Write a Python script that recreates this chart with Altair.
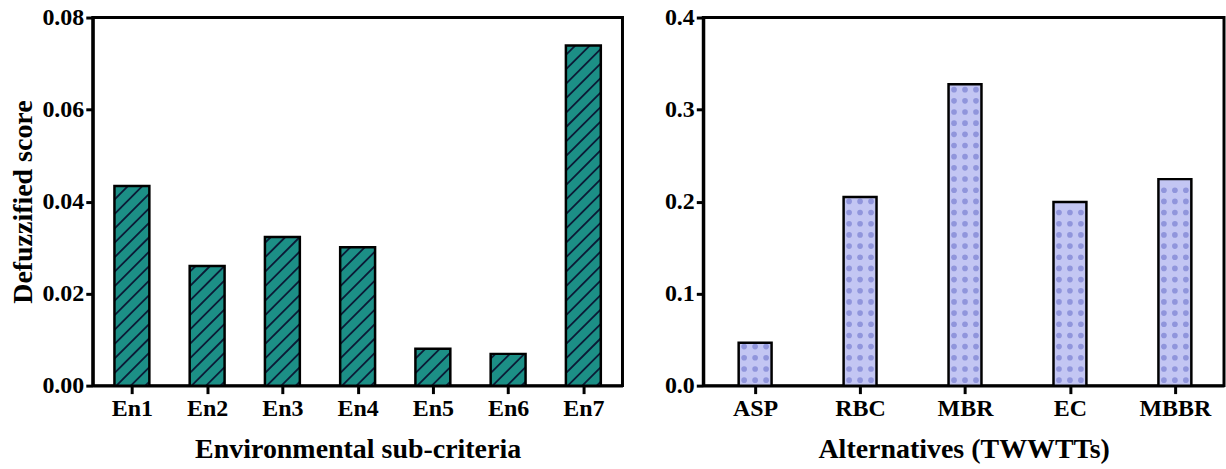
import json

import altair as alt
import numpy as np
import pandas as pd

# ---- data -------------------------------------------------------------
env_labels = ["En1", "En2", "En3", "En4", "En5", "En6", "En7"]
env_scores = [0.0434, 0.0260, 0.0323, 0.0301, 0.0080, 0.0069, 0.0739]

alt_labels = ["ASP", "RBC", "MBR", "EC", "MBBR"]
alt_scores = [0.0466, 0.2049, 0.3274, 0.1995, 0.2244]

# ---- layout / style ---------------------------------------------------
FONT = "Liberation Serif"
LABEL_SIZE = 24
TITLE_SIZE = 28
PLOT_H = 369
W_L, W_R = 531, 522
XDOM_L = [-0.52, 6.52]
XDOM_R = [-0.494, 4.468]
YMAX_L, YMAX_R = 0.08, 0.4
BAR_PX_L, BAR_PX_R = 35, 33

TEAL = "#1c8f86"
HATCH = "#0b1a36"
LAVENDER = "#c3c6f3"
DOT = "#666dc9"


def px_per_unit(width, dom):
    return width / (dom[1] - dom[0])


def bar_frame(labels, values, width, dom, bar_px):
    hw = bar_px / 2 / px_per_unit(width, dom)
    return pd.DataFrame({
        "i": range(len(labels)),
        "label": labels,
        "value": values,
        "x0": [i - hw for i in range(len(labels))],
        "x1": [i + hw for i in range(len(labels))],
    })


def hatch_segments(values, width, dom, ymax, bar_px, spacing=14.5):
    """45-degree '/' hatch lines clipped to each bar."""
    ux = px_per_unit(width, dom)
    uy = PLOT_H / ymax
    rows = []
    for i, v in enumerate(values):
        h = v * uy
        c = -bar_px + 4.0
        while c < h:
            xs = max(0.0, -c)
            xe = min(float(bar_px), h - c)
            if xe > xs + 0.5:
                rows.append({
                    "hx": i + (xs - bar_px / 2) / ux,
                    "hy": (xs + c) / uy,
                    "hx2": i + (xe - bar_px / 2) / ux,
                    "hy2": (xe + c) / uy,
                })
            c += spacing
    return pd.DataFrame(rows)


def dot_grid(values, width, dom, ymax, gap_x=11.0, gap_y=11.2):
    """Dotted fill pattern inside each bar."""
    ux = px_per_unit(width, dom)
    uy = PLOT_H / ymax
    rows = []
    for i, v in enumerate(values):
        h = v * uy
        for col in (-gap_x, 0.0, gap_x):
            for r in np.arange(5.5, h - 3.0, gap_y):
                rows.append({"dx": i + col / ux, "dy": r / uy})
    return pd.DataFrame(rows)


def x_axis(labels, title):
    return alt.Axis(
        values=list(range(len(labels))),
        labelExpr=f"{json.dumps(labels)}[round(datum.value)]",
        title=title,
        grid=False,
        tickSize=8, tickWidth=3, tickColor="black",
        domainWidth=3, domainColor="black",
        labelFont=FONT, labelFontWeight="bold", labelFontSize=LABEL_SIZE,
        labelColor="black", labelPadding=3,
        titleFont=FONT, titleFontWeight="bold", titleFontSize=TITLE_SIZE,
        titleColor="black", titlePadding=15,
    )


def y_axis(values, fmt, title):
    return alt.Axis(
        values=values,
        format=fmt,
        title=title,
        grid=False,
        tickSize=7, tickWidth=3, tickColor="black",
        domainWidth=3, domainColor="black",
        labelFont=FONT, labelFontWeight="bold", labelFontSize=LABEL_SIZE,
        labelColor="black", labelPadding=2,
        titleFont=FONT, titleFontWeight="bold", titleFontSize=TITLE_SIZE,
        titleColor="black", titlePadding=4,
    )


def panel(labels, values, width, dom, ymax, bar_px, fill, xtitle, ytitle,
          yvals, yfmt, pattern):
    xa = x_axis(labels, xtitle)
    ya = y_axis(yvals, yfmt, ytitle)
    xs = alt.Scale(domain=dom, nice=False, zero=False)
    ys = alt.Scale(domain=[0, ymax], nice=False)
    bars = bar_frame(labels, values, width, dom, bar_px)

    fill_layer = alt.Chart(bars).mark_rect(color=fill).encode(
        x=alt.X("x0:Q", scale=xs, axis=xa),
        x2="x1",
        y=alt.Y("value:Q", scale=ys, axis=ya),
        y2=alt.datum(0),
    )

    if pattern == "hatch":
        seg = hatch_segments(values, width, dom, ymax, bar_px)
        pattern_layer = alt.Chart(seg).mark_rule(
            color=HATCH, strokeWidth=1.8
        ).encode(
            x=alt.X("hx:Q", scale=xs, axis=xa),
            x2="hx2",
            y=alt.Y("hy:Q", scale=ys, axis=ya),
            y2="hy2",
        )
    else:
        dots = dot_grid(values, width, dom, ymax)
        pattern_layer = alt.Chart(dots).mark_circle(
            color=DOT, size=32, opacity=0.55
        ).encode(
            x=alt.X("dx:Q", scale=xs, axis=xa),
            y=alt.Y("dy:Q", scale=ys, axis=ya),
        )

    outline = alt.Chart(bars).mark_rect(
        fill=None, stroke="black", strokeWidth=2.5
    ).encode(
        x=alt.X("x0:Q", scale=xs, axis=xa),
        x2="x1",
        y=alt.Y("value:Q", scale=ys, axis=ya),
        y2=alt.datum(0),
    )

    return alt.layer(fill_layer, pattern_layer, outline).properties(
        width=width, height=PLOT_H
    )


left = panel(env_labels, env_scores, W_L, XDOM_L, YMAX_L, BAR_PX_L, TEAL,
             "Environmental sub-criteria", "Defuzzified score",
             [0, 0.02, 0.04, 0.06, 0.08], ".2f", "hatch")
right = panel(alt_labels, alt_scores, W_R, XDOM_R, YMAX_R, BAR_PX_R, LAVENDER,
              "Alternatives (TWWTTs)", None,
              [0, 0.1, 0.2, 0.3, 0.4], ".1f", "dots")

chart = (
    alt.hconcat(left, right, spacing=38)
    .properties(padding={"left": 8, "top": 3, "right": 0, "bottom": 0},
                background="white")
    .configure_view(stroke="black", strokeWidth=3)
)

chart.save("out.html", embed_options={"renderer": "svg", "actions": False})
